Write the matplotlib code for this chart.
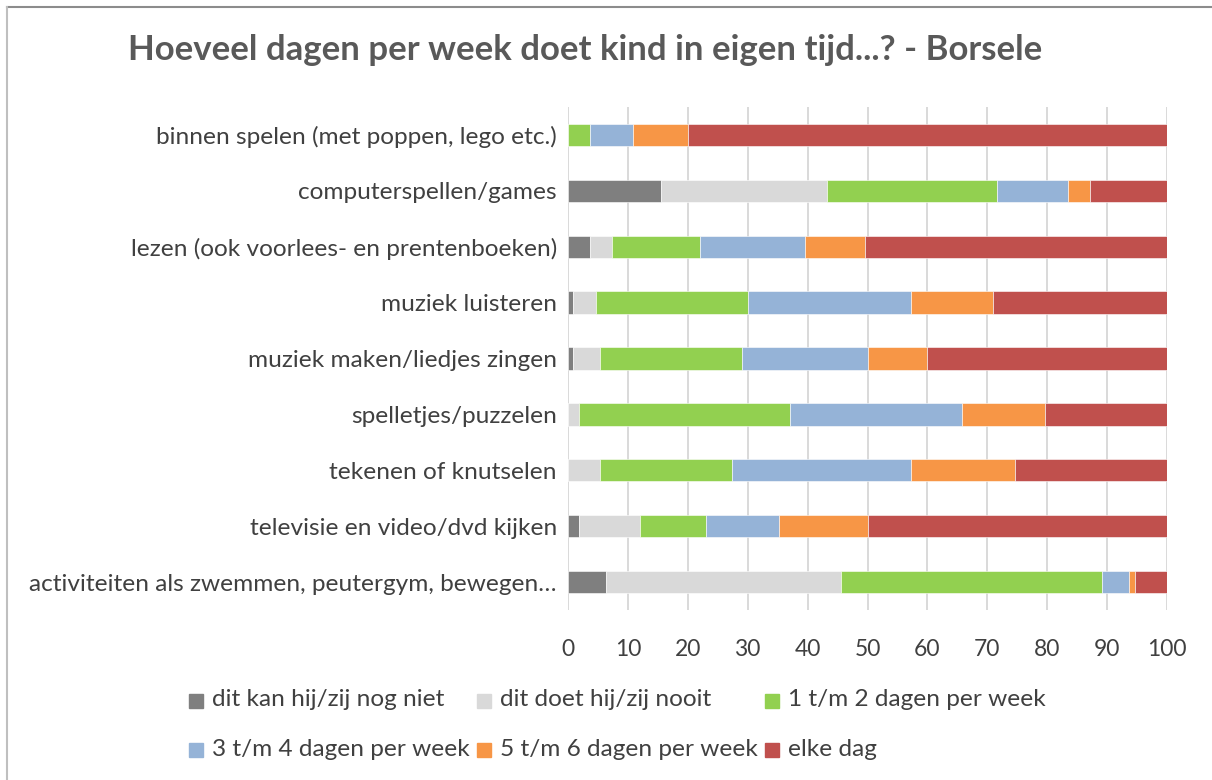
import matplotlib
matplotlib.use('Agg')
from matplotlib import pyplot as plt
from matplotlib.patches import Rectangle
from matplotlib.lines import Line2D
import numpy as np

categories = [
    'binnen spelen (met poppen, lego etc.)',
    'computerspellen/games',
    'lezen (ook voorlees- en prentenboeken)',
    'muziek luisteren',
    'muziek maken/liedjes zingen',
    'spelletjes/puzzelen',
    'tekenen of knutselen',
    'televisie en video/dvd kijken',
    'activiteiten als zwemmen, peutergym, bewegen\u2026',
]

series_names = [
    'dit kan hij/zij nog niet',
    'dit doet hij/zij nooit',
    '1 t/m 2 dagen per week',
    '3 t/m 4 dagen per week',
    '5 t/m 6 dagen per week',
    'elke dag',
]

kan_niet = [0.0, 15.5, 3.6, 0.9, 0.9, 0.0, 0.0, 1.8, 6.3]
nooit = [0.0, 27.7, 3.7, 3.7, 4.5, 1.9, 5.4, 10.3, 39.2]
dag_1_2 = [3.6, 28.4, 14.8, 25.4, 23.7, 35.1, 21.9, 11.0, 43.6]
dag_3_4 = [7.3, 11.9, 17.4, 27.3, 20.9, 28.8, 30.0, 12.1, 4.6]
dag_5_6 = [9.1, 3.7, 10.0, 13.6, 10.0, 13.9, 17.3, 14.8, 0.9]
elke_dag = [80.0, 12.8, 50.5, 29.1, 40.0, 20.3, 25.4, 50.0, 5.4]

colors = ['#7f7f7f', '#d9d9d9', '#92d050', '#95b3d7', '#f79646', '#c0504d']

plt.rcParams['font.family'] = ['Lato', 'DejaVu Sans']
txt_color = '#404040'

W, H = 1212, 780
fig = plt.figure(figsize=(W / 100, H / 100), dpi=100)

ax = fig.add_axes([568 / W, 1 - 610 / H, 599 / W, 503 / H])

y = np.arange(len(categories))
left = np.zeros(len(categories))
for vals, col, name in zip([kan_niet, nooit, dag_1_2, dag_3_4, dag_5_6, elke_dag], colors, series_names):
    ax.barh(y, vals, left=left, height=0.4, color=col, edgecolor='white', linewidth=0.4, label=name, zorder=3)
    left += np.array(vals)

ax.set_xlim(0, 100)
ax.set_ylim(len(categories) - 0.5, -0.5)
ax.set_xticks(range(0, 101, 10))
ax.set_yticks(y)
ax.set_yticklabels(categories, fontsize=17.6, color=txt_color)
ax.tick_params(axis='x', labelsize=16.5, labelcolor=txt_color, length=0, pad=21)
ax.tick_params(axis='y', length=0, pad=8)
ax.grid(axis='x', color='#d9d9d9', linewidth=1.4, zorder=0)
for s in ax.spines.values():
    s.set_visible(False)

fig.text(585 / W, 1 - 50 / H, 'Hoeveel dagen per week doet kind in eigen tijd...? - Borsele',
         ha='center', va='center', fontsize=25, fontweight='bold', color='#595959')

# legend, 3 columns x 2 rows like the original
col_x = [189, 477, 765]
row_y = [701, 750]
for i, (col, name) in enumerate(zip(colors, series_names)):
    lx = col_x[i % 3]
    ly = row_y[i // 3]
    fig.patches.append(Rectangle((lx / W, 1 - (ly + 7) / H), 14 / W, 14 / H,
                                 transform=fig.transFigure, color=col))
    fig.text((lx + 23) / W, 1 - (ly - 1) / H, name, ha='left', va='center',
             fontsize=17.6, color=txt_color)

# chart border
fig.add_artist(Line2D([7 / W, 1], [1 - 7 / H, 1 - 7 / H], color='#8c8c8c', linewidth=1.5))
fig.add_artist(Line2D([7 / W, 7 / W], [0, 1 - 7 / H], color='#bfbfbf', linewidth=1.5))

fig.savefig('out.png', dpi=100)
